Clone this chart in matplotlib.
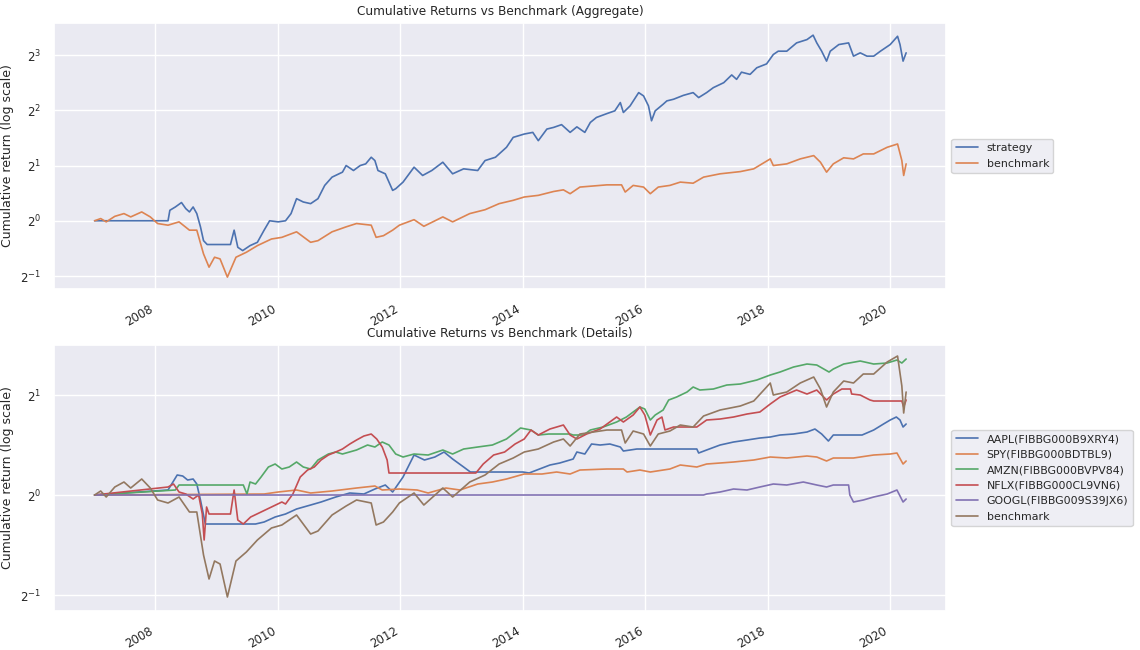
import numpy as np
import pandas as pd
import matplotlib
matplotlib.use("Agg")
import matplotlib.pyplot as plt
import matplotlib.dates as mdates
import seaborn as sns

# ==========================================
# DATA (fractional year, log2 of cumulative return)
# ==========================================
strategy_t = [2007.00, 2008.20, 2008.23, 2008.32, 2008.42, 2008.49, 2008.55, 2008.61, 2008.67, 2008.73,
              2008.78, 2008.84, 2009.22, 2009.28, 2009.34, 2009.42, 2009.54, 2009.66, 2009.77, 2009.86,
              2010.00, 2010.12, 2010.21, 2010.30, 2010.41, 2010.53, 2010.65, 2010.76, 2010.88, 2011.05,
              2011.11, 2011.23, 2011.34, 2011.43, 2011.52, 2011.58, 2011.63, 2011.75, 2011.87, 2011.92,
              2012.04, 2012.22, 2012.36, 2012.51, 2012.69, 2012.85, 2013.03, 2013.26, 2013.38, 2013.55,
              2013.73, 2013.84, 2014.02, 2014.16, 2014.25, 2014.39, 2014.50, 2014.63, 2014.77, 2014.88,
              2015.01, 2015.10, 2015.20, 2015.37, 2015.50, 2015.59, 2015.64, 2015.75, 2015.89, 2015.97,
              2016.05, 2016.10, 2016.16, 2016.29, 2016.35, 2016.46, 2016.62, 2016.78, 2016.87, 2017.00,
              2017.11, 2017.28, 2017.41, 2017.49, 2017.57, 2017.71, 2017.82, 2017.98, 2018.09, 2018.17,
              2018.31, 2018.47, 2018.64, 2018.74, 2018.80, 2018.88, 2018.96, 2019.02, 2019.16, 2019.32,
              2019.40, 2019.51, 2019.62, 2019.73, 2019.84, 2020.00, 2020.12, 2020.16, 2020.21, 2020.25,
              2020.26]
strategy_v = [0.00, 0.00, 0.19, 0.25, 0.33, 0.22, 0.16, 0.25, 0.13, -0.11,
              -0.36, -0.43, -0.43, -0.17, -0.48, -0.54, -0.45, -0.39, -0.17, 0.00,
              -0.02, 0.00, 0.13, 0.40, 0.34, 0.31, 0.40, 0.64, 0.79, 0.88,
              1.00, 0.91, 1.00, 1.03, 1.15, 1.09, 0.91, 0.85, 0.55, 0.58,
              0.70, 0.97, 0.82, 0.91, 1.06, 0.85, 0.94, 0.91, 1.09, 1.15,
              1.33, 1.51, 1.57, 1.60, 1.45, 1.66, 1.69, 1.74, 1.60, 1.70,
              1.60, 1.78, 1.87, 1.94, 1.99, 2.14, 1.96, 2.08, 2.32, 2.26,
              2.08, 1.81, 1.99, 2.11, 2.17, 2.20, 2.27, 2.32, 2.23, 2.32,
              2.41, 2.50, 2.64, 2.56, 2.69, 2.65, 2.77, 2.84, 3.01, 3.07,
              3.07, 3.22, 3.28, 3.36, 3.22, 3.07, 2.89, 3.07, 3.19, 3.22,
              2.98, 3.04, 2.98, 2.98, 3.07, 3.19, 3.34, 3.19, 2.89, 3.01,
              3.04]

bench_t = [2007.00, 2007.10, 2007.19, 2007.33, 2007.48, 2007.59, 2007.77, 2007.91, 2008.03, 2008.20,
           2008.38, 2008.55, 2008.67, 2008.78, 2008.87, 2008.96, 2009.05, 2009.17, 2009.31, 2009.48,
           2009.66, 2009.89, 2010.06, 2010.30, 2010.53, 2010.65, 2010.88, 2011.11, 2011.28, 2011.52,
           2011.60, 2011.72, 2011.87, 2011.98, 2012.22, 2012.38, 2012.69, 2012.85, 2013.13, 2013.38,
           2013.61, 2013.84, 2014.02, 2014.25, 2014.50, 2014.66, 2014.77, 2014.93, 2015.15, 2015.37,
           2015.61, 2015.67, 2015.80, 2015.97, 2016.08, 2016.21, 2016.40, 2016.57, 2016.78, 2016.95,
           2017.22, 2017.55, 2017.77, 2018.04, 2018.09, 2018.31, 2018.53, 2018.75, 2018.86, 2018.96,
           2019.07, 2019.24, 2019.40, 2019.56, 2019.73, 2019.95, 2020.12, 2020.19, 2020.22, 2020.26]
bench_v = [0.00, 0.04, -0.02, 0.08, 0.13, 0.07, 0.16, 0.07, -0.05, -0.08,
           -0.02, -0.17, -0.17, -0.60, -0.84, -0.66, -0.69, -1.02, -0.66, -0.57,
           -0.45, -0.33, -0.30, -0.20, -0.39, -0.36, -0.20, -0.11, -0.05, -0.08,
           -0.30, -0.27, -0.17, -0.08, 0.02, -0.10, 0.07, -0.02, 0.13, 0.20,
           0.31, 0.37, 0.43, 0.46, 0.53, 0.56, 0.49, 0.61, 0.63, 0.65,
           0.65, 0.52, 0.64, 0.61, 0.49, 0.61, 0.64, 0.70, 0.68, 0.79,
           0.85, 0.89, 0.94, 1.12, 1.00, 1.03, 1.12, 1.18, 1.06, 0.88,
           1.03, 1.14, 1.12, 1.21, 1.21, 1.33, 1.39, 1.09, 0.82, 1.03]

aapl_t = [2007.00, 2008.20, 2008.26, 2008.35, 2008.44, 2008.52, 2008.61, 2008.67, 2008.73, 2008.81,
          2009.63, 2009.77, 2009.95, 2010.12, 2010.30, 2010.53, 2010.70, 2010.94, 2011.17, 2011.40,
          2011.58, 2011.75, 2011.87, 2012.04, 2012.22, 2012.39, 2012.56, 2012.71, 2012.85, 2013.03,
          2013.14, 2014.00, 2014.10, 2014.44, 2014.60, 2014.82, 2014.88, 2015.01, 2015.12, 2015.26,
          2015.42, 2015.59, 2015.64, 2015.75, 2015.86, 2016.84, 2016.87, 2017.00, 2017.22, 2017.44,
          2017.66, 2017.87, 2018.04, 2018.20, 2018.42, 2018.64, 2018.77, 2018.88, 2018.99, 2019.07,
          2019.54, 2019.73, 2019.89, 2020.00, 2020.10, 2020.16, 2020.21, 2020.26]
aapl_v = [0.00, 0.05, 0.11, 0.20, 0.19, 0.15, 0.16, 0.11, -0.05, -0.29,
          -0.29, -0.27, -0.22, -0.19, -0.14, -0.10, -0.07, -0.02, 0.02, 0.01,
          0.06, 0.10, 0.03, 0.18, 0.40, 0.35, 0.38, 0.43, 0.36, 0.28,
          0.23, 0.23, 0.22, 0.30, 0.32, 0.36, 0.43, 0.41, 0.51, 0.50,
          0.51, 0.48, 0.44, 0.45, 0.46, 0.46, 0.42, 0.45, 0.50, 0.53,
          0.55, 0.57, 0.58, 0.60, 0.61, 0.63, 0.66, 0.61, 0.54, 0.60,
          0.60, 0.65, 0.71, 0.75, 0.78, 0.75, 0.68, 0.71]

spy_t = [2007.00, 2009.77, 2010.00, 2010.30, 2010.53, 2010.88, 2011.28, 2011.58, 2011.70, 2011.98,
         2012.27, 2012.45, 2012.74, 2012.97, 2013.26, 2013.50, 2013.73, 2014.02, 2014.31, 2014.55,
         2014.77, 2014.93, 2015.37, 2015.64, 2015.70, 2015.91, 2016.08, 2016.40, 2016.57, 2016.84,
         2017.00, 2017.44, 2017.77, 2018.04, 2018.31, 2018.64, 2018.80, 2018.96, 2019.07, 2019.40,
         2019.73, 2020.00, 2020.11, 2020.21, 2020.26]
spy_v = [0.00, 0.01, 0.03, 0.05, 0.02, 0.04, 0.07, 0.09, 0.05, 0.06,
         0.05, 0.02, 0.07, 0.05, 0.11, 0.13, 0.16, 0.21, 0.21, 0.23,
         0.21, 0.25, 0.26, 0.26, 0.23, 0.25, 0.23, 0.26, 0.30, 0.28,
         0.31, 0.33, 0.35, 0.38, 0.37, 0.39, 0.38, 0.34, 0.37, 0.37,
         0.40, 0.41, 0.42, 0.31, 0.34]

amzn_t = [2007.00, 2008.32, 2008.38, 2009.43, 2009.49, 2009.54, 2009.63, 2009.72, 2009.84, 2009.95,
          2010.06, 2010.18, 2010.30, 2010.41, 2010.53, 2010.65, 2010.82, 2010.94, 2011.05, 2011.28,
          2011.46, 2011.58, 2011.70, 2011.81, 2011.92, 2012.04, 2012.22, 2012.45, 2012.69, 2012.85,
          2013.03, 2013.26, 2013.50, 2013.73, 2013.96, 2014.13, 2014.25, 2014.42, 2014.77, 2014.82,
          2014.99, 2015.10, 2015.31, 2015.53, 2015.69, 2015.91, 2015.99, 2016.08, 2016.16, 2016.29,
          2016.38, 2016.51, 2016.68, 2016.78, 2016.89, 2017.11, 2017.33, 2017.55, 2017.82, 2018.04,
          2018.20, 2018.42, 2018.64, 2018.80, 2019.00, 2019.07, 2019.24, 2019.51, 2019.73, 2019.95,
          2020.11, 2020.19, 2020.26]
amzn_v = [0.00, 0.05, 0.10, 0.10, 0.01, 0.13, 0.11, 0.18, 0.28, 0.31,
          0.26, 0.28, 0.33, 0.28, 0.26, 0.35, 0.41, 0.43, 0.41, 0.45,
          0.50, 0.48, 0.53, 0.50, 0.41, 0.38, 0.41, 0.40, 0.45, 0.41,
          0.46, 0.48, 0.50, 0.56, 0.67, 0.65, 0.60, 0.61, 0.61, 0.60,
          0.60, 0.65, 0.68, 0.73, 0.78, 0.88, 0.86, 0.75, 0.80, 0.85,
          0.95, 0.98, 1.03, 1.08, 1.05, 1.06, 1.10, 1.11, 1.15, 1.20,
          1.23, 1.28, 1.31, 1.30, 1.23, 1.26, 1.31, 1.34, 1.31, 1.32,
          1.35, 1.32, 1.36]

nflx_t = [2007.00, 2008.20, 2008.29, 2008.38, 2008.49, 2008.61, 2008.70, 2008.76, 2008.79, 2008.83,
          2008.87, 2009.22, 2009.28, 2009.34, 2009.43, 2009.55, 2009.72, 2009.89, 2010.06, 2010.12,
          2010.24, 2010.36, 2010.48, 2010.59, 2010.70, 2010.82, 2010.94, 2011.05, 2011.17, 2011.28,
          2011.40, 2011.52, 2011.61, 2011.70, 2011.78, 2011.81, 2013.23, 2013.35, 2013.52, 2013.70,
          2013.87, 2014.02, 2014.13, 2014.25, 2014.44, 2014.66, 2014.77, 2014.88, 2015.04, 2015.26,
          2015.53, 2015.64, 2015.80, 2015.91, 2015.99, 2016.08, 2016.19, 2016.27, 2016.32, 2016.46,
          2016.84, 2017.00, 2017.22, 2017.44, 2017.66, 2017.87, 2018.04, 2018.20, 2018.47, 2018.64,
          2018.80, 2018.96, 2019.07, 2019.21, 2019.35, 2019.37, 2019.51, 2019.67, 2019.73, 2020.19,
          2020.22, 2020.26]
nflx_v = [0.00, 0.08, 0.11, 0.03, 0.01, -0.04, 0.00, -0.19, -0.45, -0.12,
          -0.19, -0.19, 0.05, -0.25, -0.29, -0.22, -0.17, -0.12, -0.07, -0.09,
          0.01, 0.18, 0.25, 0.28, 0.35, 0.40, 0.43, 0.46, 0.51, 0.55,
          0.59, 0.61, 0.56, 0.48, 0.35, 0.22, 0.22, 0.31, 0.40, 0.43,
          0.51, 0.56, 0.65, 0.60, 0.66, 0.70, 0.60, 0.56, 0.61, 0.66,
          0.78, 0.73, 0.80, 0.88, 0.80, 0.60, 0.75, 0.78, 0.65, 0.68,
          0.68, 0.75, 0.76, 0.78, 0.81, 0.83, 0.91, 0.98, 1.05, 1.01,
          1.05, 0.95, 1.01, 1.06, 1.06, 1.01, 1.00, 0.95, 0.94, 0.94,
          0.88, 0.95]

googl_t = [2007.00, 2016.95, 2017.00, 2017.22, 2017.44, 2017.66, 2017.87, 2018.09, 2018.31, 2018.58,
           2018.80, 2018.96, 2019.07, 2019.32, 2019.34, 2019.40, 2019.56, 2019.73, 2019.95, 2020.11,
           2020.21, 2020.26]
googl_v = [0.00, 0.00, 0.01, 0.03, 0.06, 0.05, 0.08, 0.11, 0.10, 0.13,
           0.10, 0.08, 0.10, 0.10, 0.00, -0.07, -0.05, -0.02, 0.01, 0.05,
           -0.07, -0.04]

detail_names = ['AAPL(FIBBG000B9XRY4)', 'SPY(FIBBG000BDTBL9)', 'AMZN(FIBBG000BVPV84)',
                'NFLX(FIBBG000CL9VN6)', 'GOOGL(FIBBG009S39JX6)']


def to_dates(years):
    years = np.asarray(years)
    return pd.Timestamp('2007-01-03') + pd.to_timedelta((years - 2007.0) * 365.25, unit='D')


def to_series(t, v):
    return pd.Series(np.exp2(np.asarray(v)), index=to_dates(t))


strategy = to_series(strategy_t, strategy_v)
benchmark = to_series(bench_t, bench_v)
details = [to_series(aapl_t, aapl_v), to_series(spy_t, spy_v), to_series(amzn_t, amzn_v),
           to_series(nflx_t, nflx_v), to_series(googl_t, googl_v)]

# ==========================================
# PLOT
# ==========================================
sns.set_theme(style='darkgrid')
fig = plt.figure(figsize=(11.4, 6.5), dpi=100)
ax1 = fig.add_axes([0.0474, 0.5554, 0.7824, 0.4092])
ax2 = fig.add_axes([0.0474, 0.0600, 0.7824, 0.4092])

LW = 1.2
ax1.plot(strategy.index, strategy.values, lw=LW, label='strategy')
ax1.plot(benchmark.index, benchmark.values, lw=LW, label='benchmark')
ax1.set_ylim(2 ** -1.235, 2 ** 3.58)

for s, name in zip(details, detail_names):
    ax2.plot(s.index, s.values, lw=LW, label=name)
ax2.plot(benchmark.index, benchmark.values, lw=LW, label='benchmark')
ax2.set_ylim(2 ** -1.16, 2 ** 1.50)

titles = ['Cumulative Returns vs Benchmark (Aggregate)', 'Cumulative Returns vs Benchmark (Details)']
for ax, title in zip([ax1, ax2], titles):
    ax.set_yscale('log', base=2)
    ax.set_xlim(pd.Timestamp('2006-05-06'), pd.Timestamp('2020-12-01'))
    ax.xaxis.set_major_locator(mdates.YearLocator(2))
    ax.xaxis.set_major_formatter(mdates.DateFormatter('%Y'))
    ax.tick_params(axis='both', labelsize=8.5)
    for lbl in ax.get_xticklabels():
        lbl.set_rotation(30)
        lbl.set_ha('right')
    ax.set_title(title, fontsize=8.7)
    ax.set_ylabel('Cumulative return (log scale)', fontsize=9)
    ax.legend(loc='center left', bbox_to_anchor=(1.0, 0.5), fontsize=7.9)

fig.savefig('out.png', dpi=100)
